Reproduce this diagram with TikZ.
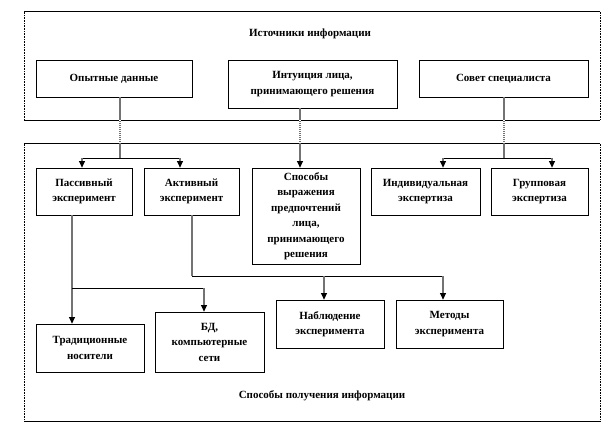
\documentclass[tikz,border=0pt]{standalone}
\usepackage{fontspec}
\setmainfont{Liberation Serif}
\usetikzlibrary{arrows.meta}
\begin{document}
\begin{tikzpicture}[x=1pt,y=-1pt,
  txt/.style={font=\bfseries\fontsize{11}{15.5}\selectfont, align=center},
  box/.style={txt, draw=black, line width=0.8pt, inner sep=0pt, fill=white},
  stem/.style={draw=black!55, line width=1.1pt},
  hline/.style={draw=black, line width=0.7pt},
  arr/.style={-{Triangle[width=6pt,length=6.5pt,color=black]}},
  frame/.style={draw=none, inner sep=0pt},
  gapdots/.style={draw=white, line width=1.4pt, dash pattern=on 1pt off 1pt}]
\useasboundingbox (0,0) rectangle (612,432);

% containers
\node[frame, minimum width=576pt, minimum height=108pt] (src) at (312,66) {};
\node[frame, minimum width=576pt, minimum height=277pt] (get) at (312,282.5) {};
\draw[line width=0.9pt] (src.north west) -- (src.north east);
\draw[line width=0.9pt] (src.south west) -- (src.south east);
\draw[densely dotted, line width=0.6pt] (src.north west) -- (src.south west);
\draw[densely dotted, line width=0.6pt] (src.north east) -- (src.south east);
\draw[line width=0.9pt] (get.north west) -- (get.north east);
\draw[line width=0.9pt] (get.south west) -- (get.south east);
\draw[densely dotted, line width=0.6pt] (get.north west) -- (get.south west);
\draw[densely dotted, line width=0.6pt] (get.north east) -- (get.south east);

\node[txt] (t1) at (310,34) {Источники информации};
\node[txt] (t2) at (322,396) {Способы получения информации};

% top row
\node[box, minimum width=156pt, minimum height=37pt] (opyt) at (114,78.5) {Опытные данные};
\node[box, minimum width=169pt, minimum height=48pt] (intu) at (312.5,84) {Интуиция лица,\\ принимающего решения};
\node[box, minimum width=169pt, minimum height=37pt] (sovet) at (503.5,78.5) {Совет специалиста};

% second row
\node[box, minimum width=96pt, minimum height=47pt] (pass) at (84,191.5) {Пассивный\\ эксперимент};
\node[box, minimum width=95pt, minimum height=47pt] (akt) at (191.5,191.5) {Активный\\ эксперимент};
\node[box, minimum width=108pt, minimum height=96pt] (spos) at (306,216) {Способы\\ выражения\\ предпочтений\\ лица,\\ принимающего\\ решения};
\node[box, minimum width=109pt, minimum height=47pt] (indiv) at (425.5,191.5) {Индивидуальная\\ экспертиза};
\node[box, minimum width=97pt, minimum height=47pt] (group) at (539.5,191.5) {Групповая\\ экспертиза};

% third row
\node[box, minimum width=108pt, minimum height=48pt] (trad) at (90,348) {Традиционные\\ носители};
\node[box, minimum width=109pt, minimum height=60pt] (bd) at (209.5,342) {БД,\\ компьютерные\\ сети};
\node[box, minimum width=108pt, minimum height=48pt] (nabl) at (330,324) {Наблюдение\\ эксперимента};
\node[box, minimum width=107pt, minimum height=48pt] (metod) at (449.5,324) {Методы\\ эксперимента};

% junctions
\coordinate (jA) at (120,158);
\coordinate (jAl) at (82,158);
\coordinate (jAr) at (180,158);
\coordinate (jB) at (300,158);
\coordinate (jC) at (504,158);
\coordinate (jCl) at (443,158);
\coordinate (jCr) at (552,158);
\coordinate (jD) at (72,288);
\coordinate (jDr) at (204,288);
\coordinate (jE) at (192,276);
\coordinate (jE1) at (324,276);
\coordinate (jE2) at (443,276);

% connectors from sources
\draw[stem] (opyt.south -| jA) -- (jA);
\draw[hline] (jAl) -- (jAr);
\draw[stem,arr] (jAl) -- (jAl |- pass.north);
\draw[stem,arr] (jAr) -- (jAr |- akt.north);

\draw[stem,arr] (intu.south -| jB) -- (spos.north -| jB);

\draw[stem] (sovet.south -| jC) -- (jC);
\draw[hline] (jCl) -- (jCr);
\draw[stem,arr] (jCl) -- (jCl |- indiv.north);
\draw[stem,arr] (jCr) -- (jCr |- group.north);

% dotted look between containers
\draw[gapdots] (src.south -| jA) -- (get.north -| jA);
\draw[gapdots] (src.south -| jB) -- (get.north -| jB);
\draw[gapdots] (src.south -| jC) -- (get.north -| jC);

% lower connectors
\draw[stem,arr] (pass.south -| jD) -- (trad.north -| jD);
\draw[hline] (jD) -- (jDr);
\draw[stem,arr] (jDr) -- (bd.north -| jDr);

\draw[stem] (akt.south -| jE) -- (jE);
\draw[hline] (jE) -- (jE2);
\draw[stem,arr] (jE1) -- (nabl.north -| jE1);
\draw[stem,arr] (jE2) -- (metod.north -| jE2);
\end{tikzpicture}
\end{document}
